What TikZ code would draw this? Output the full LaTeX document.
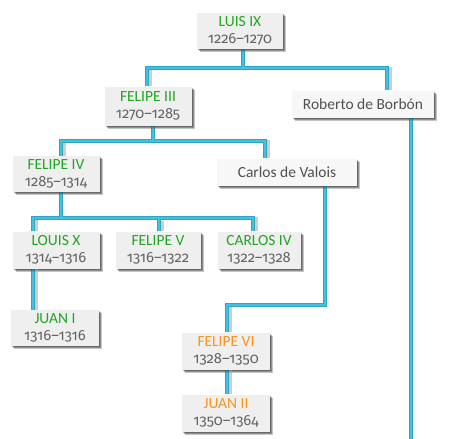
\documentclass[tikz,border=0pt]{standalone}
\usepackage{fontspec}
\setmainfont{Carlito}
\newfontfamily\yearfont{Fira Sans}[Numbers=OldStyle, Scale=0.95]
\usetikzlibrary{shadows}
\definecolor{namegreen}{RGB}{34,165,34}
\definecolor{nameorange}{RGB}{247,148,29}
\definecolor{yeargray}{RGB}{100,100,100}
\definecolor{plaingray}{RGB}{80,80,80}
\definecolor{boxfill}{RGB}{239,239,239}
\definecolor{boxfillw}{RGB}{247,247,247}
\definecolor{lineout}{RGB}{40,168,198}
\definecolor{linein}{RGB}{72,192,220}
\definecolor{lineshadow}{RGB}{205,205,205}
\tikzset{
  person/.style={rectangle, fill=boxfill, inner sep=0pt, align=center,
    font=\fontsize{15.5}{16.5}\selectfont,
    general shadow={shadow xshift=3pt, shadow yshift=-3pt, fill=black, opacity=0.12},
    general shadow={shadow xshift=2pt, shadow yshift=-2pt, fill=black, opacity=0.15},
    general shadow={shadow xshift=1pt, shadow yshift=-1pt, fill=black, opacity=0.15}},
  plain/.style={person, fill=boxfillw, text=plaingray},
  shadowline/.style={draw=lineshadow, line width=3pt, shift={(3,3)}},
  linkout/.style={draw=lineout, line width=4pt},
  linkin/.style={draw=linein, line width=2pt},
}
\newcommand{\yrs}[1]{\\\textcolor{yeargray}{\yearfont #1}}
\begin{document}
\begin{tikzpicture}[x=1pt,y=-1pt]
\useasboundingbox (0,0) rectangle (459,439);
% nodes
\node[person, minimum width=86, minimum height=36] (luis) at (240,31) {\textcolor{namegreen}{LUIS IX}\yrs{1226–1270}};
\node[person, minimum width=87, minimum height=39] (f3) at (148,106) {\textcolor{namegreen}{FELIPE III}\yrs{1270–1285}};
\node[plain, minimum width=142, minimum height=27] (rob) at (363,104) {Roberto de Borbón};
\node[person, minimum width=87, minimum height=36] (f4) at (56,174) {\textcolor{namegreen}{FELIPE IV}\yrs{1285–1314}};
\node[plain, minimum width=140, minimum height=27] (carlos) at (287,172) {Carlos de Valois};
\node[person, minimum width=87, minimum height=37] (lx) at (56,250) {\textcolor{namegreen}{LOUIS X}\yrs{1314–1316}};
\node[person, minimum width=85, minimum height=37] (f5) at (158,250) {\textcolor{namegreen}{FELIPE V}\yrs{1316–1322}};
\node[person, minimum width=83, minimum height=37] (c4) at (259,250) {\textcolor{namegreen}{CARLOS IV}\yrs{1322–1328}};
\node[person, minimum width=88, minimum height=36] (j1) at (55,328) {\textcolor{namegreen}{JUAN I}\yrs{1316–1316}};
\node[person, minimum width=88, minimum height=37] (f6) at (226,351) {\textcolor{nameorange}{FELIPE VI}\yrs{1328–1350}};
\node[person, minimum width=88, minimum height=37] (j2) at (226,413) {\textcolor{nameorange}{JUAN II}\yrs{1350–1364}};
% junction coordinates
\coordinate (a1) at (243,68);
\coordinate (a2) at (153,141);
\coordinate (a3) at (61,218);
\coordinate (a4) at (325,305);
\coordinate (robend) at (411,439);
% connectors
\foreach \sty in {shadowline,linkout,linkin}{
  \path[\sty] (luis.south -| a1) -- (a1);
  \path[\sty] (f3.north -| 147,0) |- (a1) -| (rob.north -| 387,0);
  \path[\sty] (rob.south -| robend) -- (robend);
  \path[\sty] (f3.south -| a2) -- (a2);
  \path[\sty] (f4.north -| 61,0) |- (a2) -| (carlos.north -| 265,0);
  \path[\sty] (f4.south -| a3) -- (a3);
  \path[\sty] (lx.north -| 33,0) |- (a3) -| (c4.north -| 253,0);
  \path[\sty] (f5.north -| 159,0) -- (159,218);
  \path[\sty] (lx.south -| 33,0) -- (j1.north -| 33,0);
  \path[\sty] (carlos.south -| a4) -- (a4) -| (f6.north -| 227,0);
  \path[\sty] (f6.south -| 227,0) -- (j2.north -| 227,0);
}
% redraw nodes on top of connectors
\node[person, minimum width=86, minimum height=36] at (luis) {\textcolor{namegreen}{LUIS IX}\yrs{1226–1270}};
\node[person, minimum width=87, minimum height=39] at (f3) {\textcolor{namegreen}{FELIPE III}\yrs{1270–1285}};
\node[plain, minimum width=142, minimum height=27] at (rob) {Roberto de Borbón};
\node[person, minimum width=87, minimum height=36] at (f4) {\textcolor{namegreen}{FELIPE IV}\yrs{1285–1314}};
\node[plain, minimum width=140, minimum height=27] at (carlos) {Carlos de Valois};
\node[person, minimum width=87, minimum height=37] at (lx) {\textcolor{namegreen}{LOUIS X}\yrs{1314–1316}};
\node[person, minimum width=85, minimum height=37] at (f5) {\textcolor{namegreen}{FELIPE V}\yrs{1316–1322}};
\node[person, minimum width=83, minimum height=37] at (c4) {\textcolor{namegreen}{CARLOS IV}\yrs{1322–1328}};
\node[person, minimum width=88, minimum height=36] at (j1) {\textcolor{namegreen}{JUAN I}\yrs{1316–1316}};
\node[person, minimum width=88, minimum height=37] at (f6) {\textcolor{nameorange}{FELIPE VI}\yrs{1328–1350}};
\node[person, minimum width=88, minimum height=37] at (j2) {\textcolor{nameorange}{JUAN II}\yrs{1350–1364}};
\end{tikzpicture}
\end{document}
